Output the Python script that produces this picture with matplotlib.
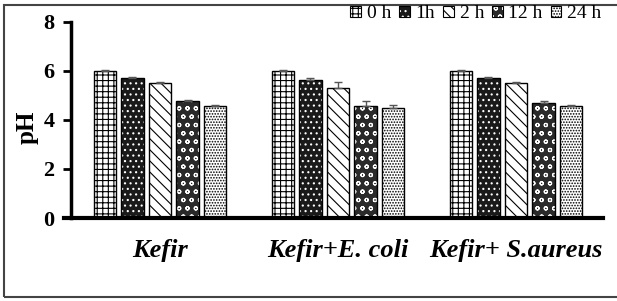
import numpy as np
import matplotlib
matplotlib.use("Agg")
import matplotlib.pyplot as plt
import matplotlib.patches as mpatches

plt.rcParams['font.family'] = ['Liberation Serif', 'DejaVu Serif']
plt.rcParams['hatch.linewidth'] = 0.8

groups = ['Kefir', 'Kefir+E. coli', 'Kefir+ S.aureus']
times = ['0 h', '1h', '2 h', '12 h', '24 h']
ph_0h = [6.0, 6.0, 6.0]
ph_1h = [5.70, 5.62, 5.70]
ph_2h = [5.50, 5.28, 5.50]
ph_12h = [4.77, 4.58, 4.68]
ph_24h = [4.58, 4.47, 4.58]
err_0h = [0.02, 0.02, 0.02]
err_1h = [0.03, 0.07, 0.03]
err_2h = [0.06, 0.26, 0.05]
err_12h = [0.04, 0.20, 0.08]
err_24h = [0.04, 0.13, 0.04]

values = [ph_0h, ph_1h, ph_2h, ph_12h, ph_24h]
errors = [err_0h, err_1h, err_2h, err_12h, err_24h]
# (face, hatch colour, hatch)
styles = [('white', 'black', '+++'),
          ('#1a1a1a', 'white', '...'),
          ('white', 'black', '\\\\\\'),
          ('#2a2a2a', 'white', 'oo'),
          ('white', 'black', '......')]

fig = plt.figure(figsize=(6.17, 3.01), dpi=100)
fig.patches.append(mpatches.Rectangle((4/617, 4/301), 0.999, 292/301,
                                      transform=fig.transFigure, fill=False,
                                      edgecolor='#444444', lw=1.5))
ax = fig.add_axes([64/617, 1-218/301, 539/617, (218-21.7)/301])

x = np.arange(len(groups))
w = 0.124
pitch = 0.1545
handles = []
for i, (vals, errs, st) in enumerate(zip(values, errors, styles)):
    pos = x + (i - 2) * pitch
    face, hc, hatch = st
    ax.bar(pos, vals, w, color=face, edgecolor=hc, hatch=hatch, lw=0, zorder=2)
    ax.bar(pos, vals, w, fill=False, edgecolor='black', lw=1.0, zorder=3)
    ax.errorbar(pos, vals, yerr=[np.zeros(len(errs)), errs], fmt='none',
                ecolor='#555555', elinewidth=1, capsize=3, capthick=1, zorder=4)
    handles.append((mpatches.Patch(facecolor=face, edgecolor=hc, hatch=hatch, lw=0),
                    mpatches.Patch(fill=False, edgecolor='black', lw=0.8)))

ax.set_xlim(-(160-64)/178, (603-160)/178)
ax.set_ylim(0, 8)
ax.set_yticks([0, 2, 4, 6, 8])
ax.set_xticks(x)
ax.set_xticklabels(groups, fontsize=19, fontweight='bold', fontstyle='italic')
ax.tick_params(axis='x', length=0, pad=15)
ax.tick_params(axis='y', direction='out', length=6, width=2, pad=6)
ax.spines['top'].set_visible(False)
ax.spines['right'].set_visible(False)
ax.spines['left'].set_position(('axes', 7/539))
ax.spines['left'].set_linewidth(2.5)
ax.spines['bottom'].set_linewidth(3)
ax.set_ylabel('pH', fontsize=18, fontweight='bold')
ax.yaxis.set_label_coords(-0.048, 0.464)

fig.canvas.draw()
plt.setp(ax.get_yticklabels(), fontweight='bold', fontsize=16)

fig.legend(handles, times, loc='center right', bbox_to_anchor=(611/617, 1-14/301),
           ncol=5, frameon=False, handlelength=0.55, handleheight=0.55,
           handletextpad=0.3, columnspacing=0.4, fontsize=14, borderpad=0)

fig.savefig('out.png', dpi=100)
